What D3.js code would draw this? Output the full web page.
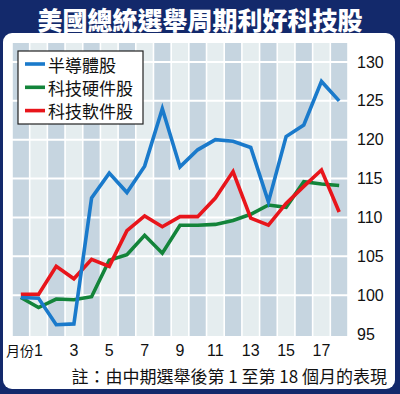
<html>
<head>
<meta charset="utf-8">
<script src="https://cdn.jsdelivr.net/npm/d3@7"></script>
<style>
  body { margin:0; background:#13296b; }
  svg { display:block; }
</style>
</head>
<body>
<svg id="chart"></svg>
<script>
// data
var months = [0,1,2,3,4,5,6,7,8,9,10,11,12,13,14,15,16,17,18];
var semis    = [99.7,99.6,96.2,96.3,112.5,115.7,113.2,116.6,124.0,116.5,118.7,120.0,119.8,119.0,112.0,120.4,121.9,127.5,125.0];
var hardware = [99.7,98.4,99.5,99.4,99.8,104.5,105.2,107.7,105.4,109.0,109.0,109.1,109.6,110.4,111.6,111.3,114.6,114.3,114.1];
var software = [100.1,100.1,103.7,102.1,104.6,103.7,108.3,110.2,108.8,110.1,110.1,112.5,115.9,109.9,109.0,111.8,114.0,116.1,110.7];
var seriesNames = ["半導體股","科技硬件股","科技軟件股"];
var seriesColors = ["#1a7acb","#13843a","#e8151b"];
var yTicks = [95,100,105,110,115,120,125,130];
var xTicks = [1,3,5,7,9,11,13,15,17];

var W = 400, H = 394;
var svg = d3.select("#chart").attr("width", W).attr("height", H);

// navy frame + white panel
svg.append("rect").attr("width", W).attr("height", H).attr("fill", "#13296b");
svg.append("rect").attr("x", 3).attr("y", 33).attr("width", 392).attr("height", 356)
   .attr("rx", 9).attr("fill", "#fff");

svg.append("text").attr("x", 200).attr("y", 19)
   .attr("text-anchor", "middle").attr("dominant-baseline", "central")
   .style("font-family", "'Noto Sans CJK TC'").style("font-weight", "900")
   .style("font-size", "25px").attr("fill", "#fff")
   .text("美國總統選舉周期利好科技股");

var x = d3.scaleBand().domain(months).range([12, 348]).paddingInner(0.09).paddingOuter(0.045);
var xc = function(m){ return x(m) + x.bandwidth()/2; };
var y = d3.scaleLinear().domain([95, 130]).range([334, 62]);

// striped columns
var g = svg.append("g");
g.selectAll("rect.col").data(months).enter().append("rect")
  .attr("class", "col")
  .attr("x", function(d){ return x(d); })
  .attr("y", 43)
  .attr("width", x.bandwidth())
  .attr("height", 336 - 43)
  .attr("fill", function(d){ return d % 2 === 0 ? "#c6d5e0" : "#e5edef"; });

// horizontal white grid
g.selectAll("line.h").data(yTicks.slice(1)).enter().append("line")
  .attr("x1", 12).attr("x2", 348)
  .attr("y1", function(d){ return y(d); }).attr("y2", function(d){ return y(d); })
  .attr("stroke", "#fff").attr("stroke-width", 2);

// y labels on the right
svg.selectAll("text.yt").data(yTicks).enter().append("text")
  .attr("x", 357).attr("y", function(d){ return y(d); })
  .attr("dominant-baseline", "central")
  .style("font-family", "'Liberation Sans', Arial").style("font-size", "16px")
  .attr("fill", "#111").text(function(d){ return d; });

// x labels
svg.selectAll("text.xt").data(xTicks).enter().append("text")
  .attr("x", function(d){ return xc(d); }).attr("y", 350)
  .attr("text-anchor", "middle").attr("dominant-baseline", "central")
  .style("font-family", "'Liberation Sans', Arial").style("font-size", "16px")
  .attr("fill", "#111").text(function(d){ return d; });
svg.append("text").attr("x", xc(1) - 4.5).attr("y", 350)
  .attr("text-anchor", "end").attr("dominant-baseline", "central")
  .style("font-family", "'Noto Sans CJK TC'").style("font-size", "14px")
  .attr("fill", "#111").text("月份");

// lines
var line = d3.line()
  .x(function(d, i){ return xc(months[i]); })
  .y(function(d){ return y(d); });
var allSeries = [semis, hardware, software];
[1, 2, 0].forEach(function(k){
  svg.append("path").datum(allSeries[k])
    .attr("d", line).attr("fill", "none")
    .attr("stroke", seriesColors[k]).attr("stroke-width", 3.6)
    .attr("stroke-linejoin", "miter");
});

// legend
var lg = svg.append("g");
lg.append("rect").attr("x", 18).attr("y", 51).attr("width", 125).attr("height", 73)
  .attr("fill", "#fff").attr("stroke", "#222").attr("stroke-width", 1.2);
seriesNames.forEach(function(n, i){
  var yy = 64 + i * 23.3;
  lg.append("line").attr("x1", 25).attr("x2", 45).attr("y1", yy).attr("y2", yy)
    .attr("stroke", seriesColors[i]).attr("stroke-width", 3.6);
  lg.append("text").attr("x", 48).attr("y", yy)
    .attr("dominant-baseline", "central")
    .style("font-family", "'Noto Sans CJK TC'").style("font-size", "17px")
    .attr("fill", "#111").text(n);
});

// note
svg.append("text").attr("x", 387).attr("y", 375)
  .attr("text-anchor", "end").attr("dominant-baseline", "central")
  .style("font-family", "'Noto Sans CJK TC'").style("font-size", "17px")
  .attr("fill", "#111").text("註：由中期選舉後第 1 至第 18 個月的表現");
</script>
</body>
</html>
